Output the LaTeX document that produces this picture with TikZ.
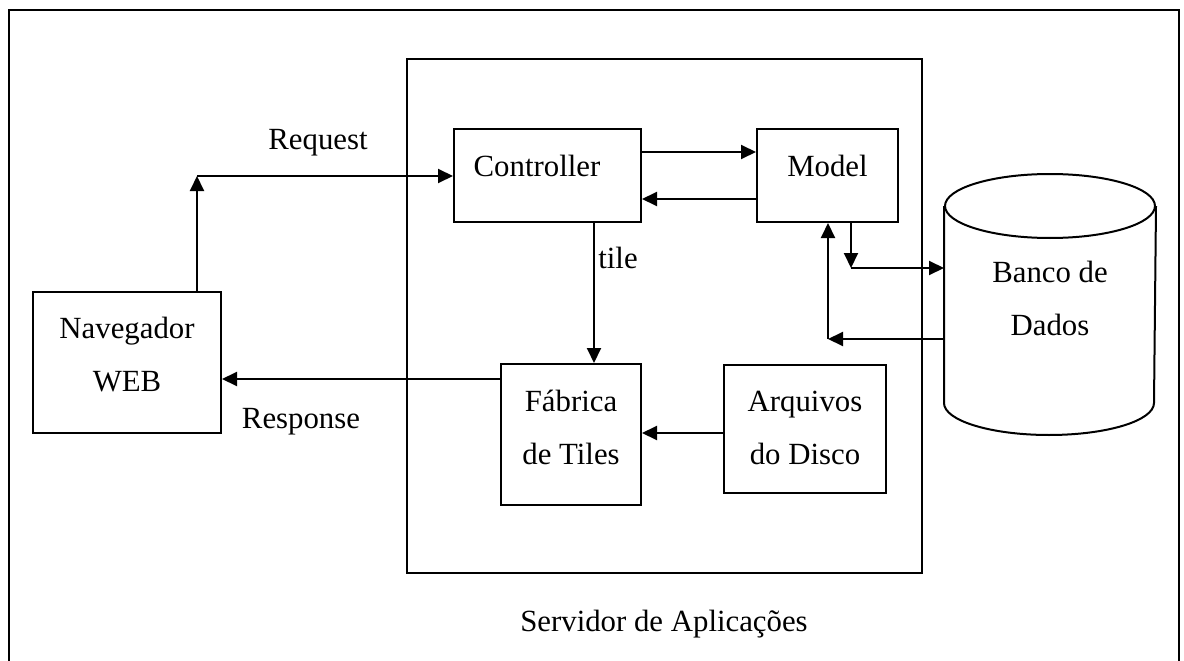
\documentclass[tikz,border=0pt]{standalone}
\usepackage{fontspec}
\setmainfont{Liberation Serif}
\usetikzlibrary{arrows.meta,calc}
\begin{document}
\begin{tikzpicture}[x=1pt,y=-1pt,
  line width=2pt,
  font=\fontsize{30.8}{53}\selectfont,
  box/.style={draw, rectangle, inner sep=0pt},
  txt/.style={inner sep=0pt, align=center},
  lbl/.style={anchor=base, inner sep=0pt},
  arr/.style={-{Triangle[length=15pt,width=14pt]}},
]
\useasboundingbox (0,0) rectangle (1184,661);
\fill[white] (0,0) rectangle (1184,661);

% outer frame (runs past the lower edge)
\draw (9,690) -- (9,10) -- (1179,10) -- (1179,690);

% boxes
\node[box, minimum width=515pt, minimum height=514pt] (srv) at (664.5,316) {};
\node[box, minimum width=188pt, minimum height=141pt] (nav) at (127,362.5) {};
\node[box, minimum width=187pt, minimum height=93pt] (ctrl) at (547.5,175.5) {};
\node[box, minimum width=141pt, minimum height=93pt] (mdl) at (827.5,175.5) {};
\node[box, minimum width=140pt, minimum height=141pt] (fab) at (571,434.5) {};
\node[box, minimum width=162pt, minimum height=128pt] (arq) at (805,429) {};

% database cylinder
\node[inner sep=0pt, minimum width=210pt, minimum height=195pt] (db) at (1050,304.5) {};
\draw (db.north west) -- (db.south west)
  arc[start angle=180, end angle=0, x radius=105, y radius=32] -- (db.north east);
\draw (db.north) ellipse[x radius=105, y radius=32];

% texts
\node[txt] (navt) at ([yshift=7.5pt]nav.center) {Navegador\\WEB};
\node[lbl] (ctrlt) at ([xshift=-10.5pt, yshift=-0.5pt]ctrl.center) {Controller};
\node[lbl] (mdlt) at ([yshift=-0.5pt]mdl.center) {Model};
\node[txt] (fabt) at ([yshift=7pt]fab.center) {Fábrica\\de Tiles};
\node[txt] (arqt) at ([yshift=1.5pt]arq.center) {Arquivos\\do Disco};
\node[txt] (dbt) at ([yshift=6pt]db.center) {Banco de\\Dados};

\node[lbl] (req) at (318,149) {Request};
\node[lbl] (resp) at (301,428) {Response};
\node[lbl] (tilet) at (618,268) {tile};
\node[lbl] (srvt) at (664,631) {Servidor de Aplicações};

% connectors
\coordinate (rq) at (197,176);
\draw[arr] (nav.north -| rq) -- (rq);
\draw[arr] (rq) -- (rq -| ctrl.west);
\draw[arr] ([yshift=23.5pt]ctrl.east) -- ([yshift=23.5pt]mdl.west);
\draw[arr] ([yshift=-23.5pt]mdl.west) -- ([yshift=-23.5pt]ctrl.east);
\draw[arr] ([xshift=46.5pt]ctrl.south) -- ([xshift=46.5pt]ctrl.south |- fab.north);
\draw[arr] ([yshift=55.5pt]fab.west) -- ([yshift=55.5pt]fab.west -| nav.east);
\draw[arr] ([yshift=-4pt]arq.west) -- ([yshift=-4pt]arq.west -| fab.east);
\coordinate (md) at (851,268);
\draw[arr] (mdl.south -| md) -- (md);
\draw[arr] (md) -- (md -| db.west);
\coordinate (dm) at (828,339);
\draw[arr] (dm -| db.west) -- (dm);
\draw[arr] (dm) -- (dm |- mdl.south);
\end{tikzpicture}
\end{document}
